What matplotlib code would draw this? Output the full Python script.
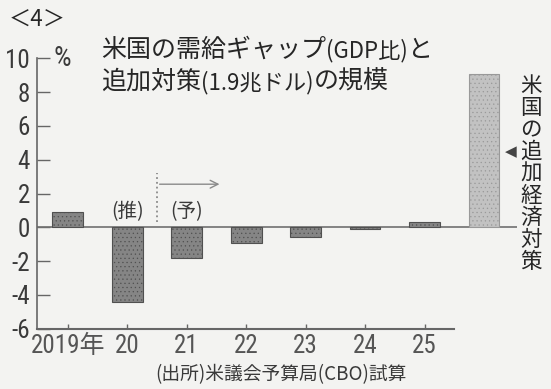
import numpy as np
import matplotlib
matplotlib.use("Agg")
import matplotlib.pyplot as plt
from matplotlib import font_manager

plt.rcParams["axes.unicode_minus"] = False
plt.rcParams["hatch.linewidth"] = 0.4

# data
years = ["2019年", "20", "21", "22", "23", "24", "25"]
gap = [0.9, -4.4, -1.8, -0.9, -0.6, -0.1, 0.3]   # 需給ギャップ (GDP比, %)
stimulus = 9.1                                  # 追加経済対策 (GDP比, %)
yticks = [-6, -4, -2, 0, 2, 4, 6, 8, 10]
notes = {1: "(推)", 2: "(予)"}

W, H = 551, 389
bg = "#f3f3f1"
ink = "#3a3a3a"
jp = ["Noto Sans CJK JP", "DejaVu Sans"]

# narrow face for the numbers if one is installed
installed = {f.name for f in font_manager.fontManager.ttflist}
narrow = "Roboto"
for cand in ["Liberation Sans Narrow", "DejaVu Sans Condensed",
             "Roboto Condensed", "Open Sans Condensed"]:
    if cand in installed:
        narrow = cand
        break
num = [narrow, "Noto Sans CJK JP", "DejaVu Sans"]
numsize = 18 if narrow != "Roboto" else 16.5

fig = plt.figure(figsize=(W / 100, H / 100), dpi=100, facecolor=bg)
ax = fig.add_axes([36.7 / W, 1 - 328.7 / H, 480 / W, 270.4 / H])
ax.set_facecolor(bg)

x = np.arange(len(years))
ax.bar(x, gap, width=0.52, color="#858585", edgecolor="#505050",
       linewidth=0.8, hatch="....", zorder=3)
ax.bar(len(years), stimulus, width=0.52, color="#c2c2c2", edgecolor="#999999",
       linewidth=0.8, hatch="....", zorder=3)
ax.axhline(0, color="#707070", linewidth=1.2, zorder=2)

ax.set_xlim(-0.52, 7.55)
ax.set_ylim(-6, 10)
ax.set_xticks(x)
ax.set_xticklabels(years, family=num, fontsize=numsize, color="#555555")
ax.set_yticks(yticks)
ax.set_yticklabels([str(v) for v in yticks], family=num, fontsize=numsize, color=ink)
ax.tick_params(axis="y", direction="in", length=9, width=1, color="#666666", pad=5)
ax.tick_params(axis="x", direction="in", length=3.5, width=1, color="#666666", pad=4)

for s in ["top", "right"]:
    ax.spines[s].set_visible(False)
ax.spines["left"].set_color("#666666")
ax.spines["left"].set_linewidth(1.2)
ax.spines["bottom"].set_color("#666666")
ax.spines["bottom"].set_linewidth(1.5)
ax.spines["bottom"].set_bounds(-0.52, 6.5)

# 推計・予測の注記
for i, t in notes.items():
    ax.text(i, 0.9, t, ha="center", va="center", fontsize=14,
            family=jp, color=ink)
ax.plot([1.5, 1.5], [0.3, 3.2], color="#8a8a8a", linestyle=":", linewidth=1.3)
ax.annotate("", xy=(2.6, 2.55), xytext=(1.5, 2.55),
            arrowprops=dict(arrowstyle="->", color="#8a8a8a", lw=1.0,
                            mutation_scale=14))

ax.text(0.035, 10, "%", transform=ax.get_yaxis_transform(), fontsize=20,
        family=num, color=ink, va="center", ha="left")


def fig_xy(px, py):
    return px / W, 1 - py / H


# title (mixed sizes)
tkw = dict(family=jp, color="#262626", va="bottom", ha="left")
t1 = fig.text(*fig_xy(101, 63), "米国の需給ギャップ", fontsize=18, **tkw)
t1b = ax.annotate("(GDP比)", xy=(1, 0.03), xycoords=t1, fontsize=16,
                  annotation_clip=False, **tkw)
ax.annotate("と", xy=(1, -0.03), xycoords=t1b, fontsize=18,
            annotation_clip=False, **tkw)
t2 = fig.text(*fig_xy(101, 95), "追加対策", fontsize=18, **tkw)
t2b = ax.annotate("(1.9兆ドル)", xy=(1, 0.03), xycoords=t2, fontsize=16,
                  annotation_clip=False, **tkw)
ax.annotate("の規模", xy=(1, -0.03), xycoords=t2b, fontsize=18,
            annotation_clip=False, **tkw)

# vertical label for the stimulus bar
label = "米国の追加経済対策"
for k, ch in enumerate(label):
    fig.text(*fig_xy(531, 86 + 22 * k), ch, fontsize=15.5, family=jp,
             color="#262626", ha="center", va="center")
fig.text(*fig_xy(511, 152), "◀", fontsize=11, family=["DejaVu Sans"],
         color="#444444", ha="center", va="center")

fig.text(*fig_xy(9, 19), "＜4＞", fontsize=16, family=jp, color="#262626",
         ha="left", va="center")
fig.text(*fig_xy(281, 375), "(出所)米議会予算局(CBO)試算", fontsize=13.5,
         family=jp, color=ink, ha="center", va="center")

fig.savefig("out.png", dpi=100, facecolor=bg)
